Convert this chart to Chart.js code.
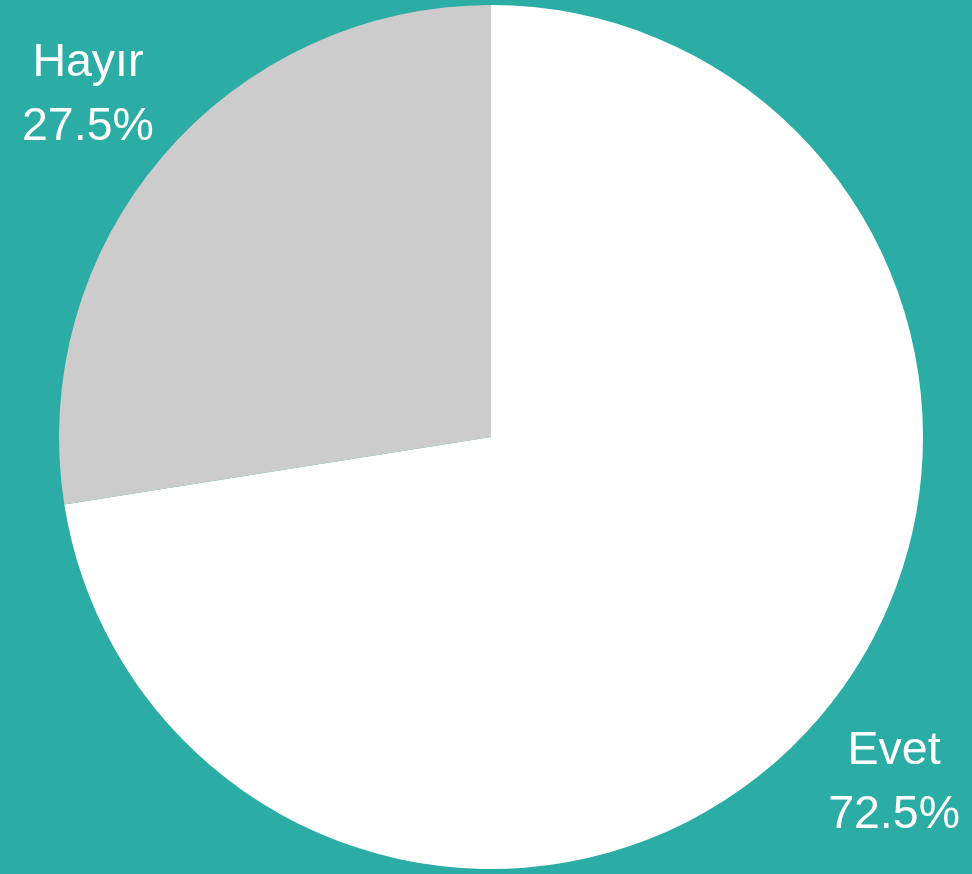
<!DOCTYPE html>
<html>
<head>
<meta charset="utf-8">
<script src="https://cdn.jsdelivr.net/npm/chart.js@4/dist/chart.umd.min.js"></script>
<style>
  html, body { margin: 0; padding: 0; background: #2bada5; }
  #wrap { width: 972px; height: 874px; }
</style>
</head>
<body>
<div id="wrap"><canvas id="pie"></canvas></div>
<script>
const labels = ['Evet', 'Hayır'];
const values = [72.5, 27.5];
const colors = ['#ffffff', '#cccccc'];

// labels outside the slices: name on top, percent below
const outsideLabels = {
  id: 'outsideLabels',
  afterDatasetsDraw(chart) {
    const ctx = chart.ctx;
    const meta = chart.getDatasetMeta(0);
    ctx.save();
    ctx.fillStyle = '#ffffff';
    ctx.font = '46.5px "Liberation Sans", Arial, sans-serif';
    ctx.textAlign = 'center';
    ctx.textBaseline = 'middle';
    meta.data.forEach((arc, i) => {
      const p = arc.getProps(['x', 'y', 'startAngle', 'endAngle', 'outerRadius'], true);
      const mid = (p.startAngle + p.endAngle) / 2;
      const r = p.outerRadius * 1.227;
      const cx = p.x + Math.cos(mid) * r;
      const cy = p.y + Math.sin(mid) * r + 2;
      ctx.fillText(labels[i], cx, cy - 32);
      ctx.fillText(values[i].toFixed(1) + '%', cx, cy + 32);
    });
    ctx.restore();
  }
};

new Chart(document.getElementById('pie'), {
  type: 'pie',
  data: {
    labels: labels,
    datasets: [{
      data: values,
      backgroundColor: colors,
      borderWidth: 0
    }]
  },
  options: {
    responsive: true,
    maintainAspectRatio: false,
    animation: false,
    layout: { padding: { left: 15, right: 5, top: 5, bottom: 5 } },
    plugins: {
      legend: { display: false },
      tooltip: { enabled: false }
    }
  },
  plugins: [outsideLabels]
});
</script>
</body>
</html>
